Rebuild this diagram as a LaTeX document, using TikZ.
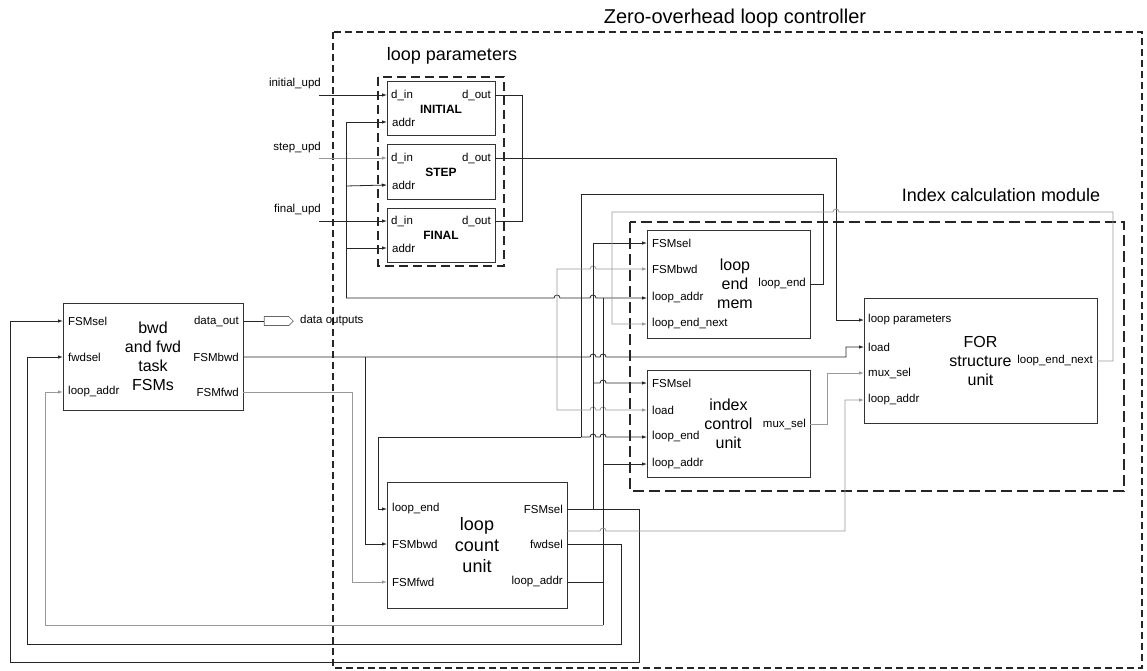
\documentclass[tikz,border=0pt]{standalone}
\usepackage{fontspec}
\setmainfont{Liberation Sans}
\usetikzlibrary{arrows.meta,shapes.symbols}

\tikzset{
  blk/.style={draw=black!80, line width=1pt, inner sep=0pt, align=center, font=\fontsize{16}{19}\selectfont},
  regbox/.style={blk, minimum width=108pt, minimum height=54pt, font=\fontsize{12}{14}\selectfont\bfseries},
  pinl/.style={anchor=west, xshift=5pt, inner sep=0pt, font=\fontsize{11.5}{13}\selectfont},
  pinr/.style={anchor=east, xshift=-4pt, inner sep=0pt, font=\fontsize{11.5}{13}\selectfont},
  srclabel/.style={anchor=east, inner sep=0pt, font=\fontsize{11.5}{13}\selectfont},
  wire/.style={draw=black!85, line width=0.8pt},
  gwire/.style={draw=black!40, line width=0.8pt},
  arr/.style={-{Latex[length=5pt,width=3.5pt]}},
  grp/.style={draw=black!85, line width=1.2pt, dash pattern=on 9pt off 5pt},
  grptitle/.style={font=\fontsize{18}{21}\selectfont, inner sep=0pt},
}

% hop over a crossing wire (rightwards / leftwards)
\newcommand{\hopR}[2]{-- (#1-3,#2) arc[start angle=180,end angle=360,radius=3]}
\newcommand{\hopL}[2]{-- (#1+3,#2) arc[start angle=0,end angle=-180,radius=3]}

\begin{document}
\begin{tikzpicture}[x=1pt,y=-1pt]
\useasboundingbox (0,0) rectangle (1147,671);

% groups
\draw[grp, line width=1.1pt, dash pattern=on 7pt off 4pt] (333,32) rectangle (1142,668);
\node[grptitle, font=\fontsize{20}{24}\selectfont] (zolc-t) at (735,18) {Zero-overhead loop controller};
\draw[grp] (378,77) rectangle (504,266);
\node[grptitle] (lp-t) at (452,56) {loop parameters};
\draw[grp, line width=1.3pt, dash pattern=on 11pt off 5pt] (630,222) rectangle (1124,491);
\node[grptitle] (icm-t) at (1001,195) {Index calculation module};

% parameter registers
\node[regbox] (reg-init) at (441,109) {INITIAL};
\node[regbox] (reg-step) at (441,172) {STEP};
\node[regbox] (reg-final) at (441,235) {FINAL};
\foreach \r/\y in {init/95, step/158, final/221}{
  \coordinate (\r-din) at (387,\y);
  \coordinate (\r-addr) at (387,\y+27);
  \coordinate (\r-dout) at (495,\y);
  \node[pinl, xshift=-1pt] (\r-din-t) at (\r-din) {d\_in};
  \node[pinl] (\r-addr-t) at (\r-addr) {addr};
  \node[pinr] (\r-dout-t) at (\r-dout) {d\_out};
}
\coordinate (init-src) at (319,95);
\coordinate (step-src) at (319,158);
\coordinate (final-src) at (319,221);
\node[srclabel] (init-src-t) at (321,84) {initial\_upd};
\node[srclabel] (step-src-t) at (321,148) {step\_upd};
\node[srclabel] (final-src-t) at (321,210) {final\_upd};

% task FSMs
\node[blk, minimum width=180pt, minimum height=107pt] (fsm) at (153,356.5) {bwd\\and fwd\\task\\FSMs};
\foreach \n/\y/\t in {sel/321/FSMsel, fwd/357/fwdsel, addr/392/loop\_addr}{
  \coordinate (fsm-\n) at (63,\y);
  \node[pinl] (fsm-\n-t) at (fsm-\n) {\t};
}
\foreach \n/\y/\t in {dout/321/data\_out, bwd/357/FSMbwd, fwdo/392/FSMfwd}{
  \coordinate (fsm-\n) at (243,\y);
  \node[pinr] (fsm-\n-t) at (fsm-\n) {\t};
}
\node[draw=black!60, line width=0.7pt, signal, signal to=east, minimum width=29pt, minimum height=9pt, inner sep=0pt] (dout-port) at (276.5,321) {};
\node[anchor=west, inner sep=0pt, font=\fontsize{11.5}{13}\selectfont] (dout-port-t) at (300,321) {data outputs};

% loop count unit
\node[blk, font=\fontsize{18}{21}\selectfont, minimum width=180pt, minimum height=126pt] (lcu) at (477,545) {loop\\count\\unit};
\foreach \n/\y/\t in {end/509/loop\_end, bwd/544/FSMbwd, fwd/582/FSMfwd}{
  \coordinate (lcu-\n) at (387,\y);
  \node[pinl] (lcu-\n-t) at (lcu-\n) {\t};
}
\foreach \n/\y/\t in {sel/509/FSMsel, fwdsel/544/fwdsel, addr/582/loop\_addr}{
  \coordinate (lcu-\n) at (567,\y);
  \node[pinr] (lcu-\n-t) at (lcu-\n) {\t};
}
\coordinate (lcu-aux) at (567,531);

% loop end mem
\node[blk, minimum width=163pt, minimum height=108pt, text width=150pt, align=center] (lem) at (728.5,284) {\hspace*{13pt}loop\\\hspace*{13pt}end\\\hspace*{13pt}mem};
\foreach \n/\y/\t in {sel/243/FSMsel, bwd/269/FSMbwd, addr/298/loop\_addr, next/324/loop\_end\_next}{
  \coordinate (lem-\n) at (647,\y);
  \node[pinl] (lem-\n-t) at (lem-\n) {\t};
}
\coordinate (lem-end) at (810,284);
\node[pinr] (lem-end-t) at (lem-end) {loop\_end};

% index control unit
\node[blk, minimum width=163pt, minimum height=107pt] (icu) at (728.5,423.5) {index\\control\\unit};
\foreach \n/\y/\t in {sel/383/FSMsel, load/410/load, end/437/loop\_end, addr/464/loop\_addr}{
  \coordinate (icu-\n) at (647,\y);
  \node[pinl] (icu-\n-t) at (icu-\n) {\t};
}
\coordinate (icu-mux) at (810,424);
\node[pinr] (icu-mux-t) at (icu-mux) {mux\_sel};

% FOR structure unit
\node[blk, minimum width=233pt, minimum height=125pt] (for) at (980.5,360.5) {FOR\\structure\\unit};
\foreach \n/\y/\t in {par/320/loop parameters, load/347/load, mux/373/mux\_sel, addr/400/loop\_addr}{
  \coordinate (for-\n) at (864,\y);
  \node[pinl, xshift=-1pt] (for-\n-t) at (for-\n) {\t};
}
\coordinate (for-next) at (1097,361);
\node[pinr] (for-next-t) at (for-next) {loop\_end\_next};

% register inputs
\draw[wire, arr] (init-src) -- (init-din);
\draw[gwire, arr] (step-src) -- (step-din);
\draw[wire, arr] (final-src) -- (final-din);

% address bus
\coordinate (abus) at (346,298);
\draw[wire, arr] (abus) |- (init-addr);
\draw[wire, arr] (346,186) -- (step-addr);
\draw[wire, arr] (346,248) -- (final-addr);
\draw[wire, arr] (abus) \hopR{557}{298} \hopR{593}{298} -- (lem-addr);

% register outputs
\draw[wire] (init-dout) -| (522,221) -- (final-dout);
\draw[wire, arr] (step-dout) -| (836,320) -- (for-par);

% data outputs
\draw[wire] (fsm-dout) -- (dout-port.west);

% loop_end
\coordinate (endj) at (581,437);
\draw[wire] (lem-end) -| (823,194) -| (endj);
\draw[wire, arr] (endj) \hopR{593}{437} \hopR{603}{437} -- (icu-end);
\draw[wire, arr] (endj) -- (378,437) |- (lcu-end);

% FSMbwd
\draw[wire, arr] (fsm-bwd) \hopR{593}{357} \hopR{603}{357} -- (846,357) |- (for-load);
\draw[wire, arr] (365,357) |- (lcu-bwd);
\draw[gwire, arr] (557,357) -- (557,269) \hopR{593}{269} -- (lem-bwd);
\draw[gwire, arr] (557,357) -- (557,410) \hopR{593}{410} \hopR{603}{410} -- (icu-load);

% FSMfwd
\draw[gwire, arr] (fsm-fwdo) -- (352,392) |- (lcu-fwd);

% FSMsel
\draw[wire, arr] (lcu-sel) -- (639,509) -- (639,662) -- (10,662) |- (fsm-sel);
\draw[wire, arr] (593,509) |- (lem-sel);
\draw[wire, arr] (593,383) \hopR{603}{383} -- (icu-sel);

% fwdsel
\draw[wire, arr] (lcu-fwdsel) -- (621,544) -- (621,644) -- (27,644) |- (fsm-fwd);

% loop_addr
\draw[wire] (lcu-addr) -- (603,582);
\draw[wire] (603,298) -- (603,625);
\draw[wire, arr] (603,464) -- (icu-addr);
\draw[gwire, arr] (603,625) -- (45,625) |- (fsm-addr);
\draw[gwire, arr] (lcu-aux) \hopR{603}{531} -- (845,531) |- (for-addr);

% mux_sel
\draw[gwire, arr] (icu-mux) -- (827,424) |- (for-mux);

% loop_end_next
\draw[gwire, arr] (for-next) -- (1113,361) -- (1113,212) \hopL{836}{212} -- (612,212) |- (lem-next);

\end{tikzpicture}
\end{document}
